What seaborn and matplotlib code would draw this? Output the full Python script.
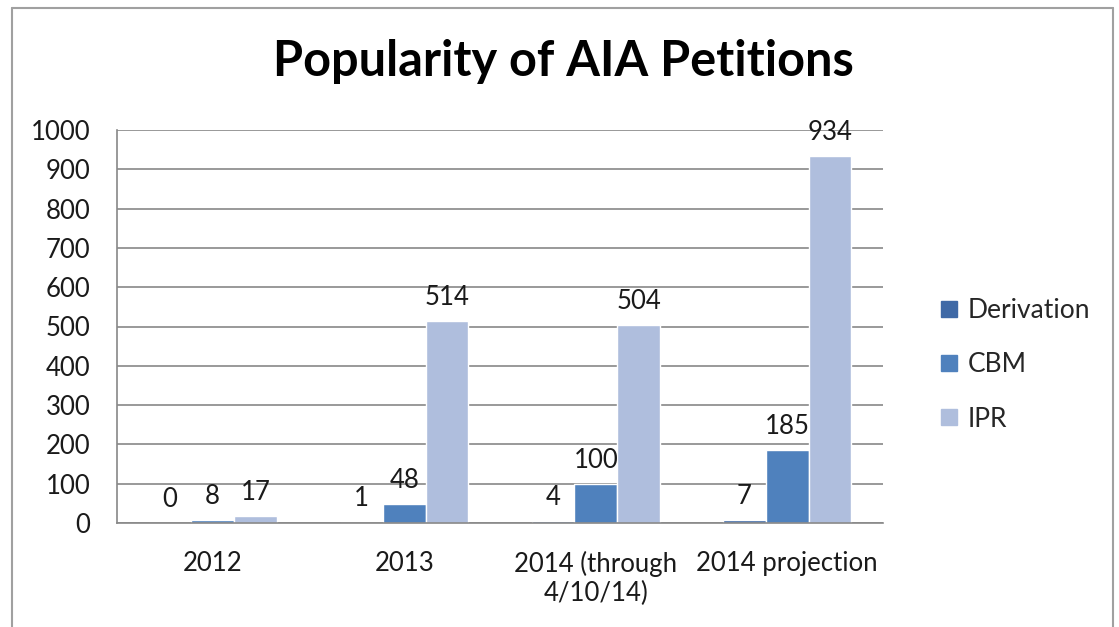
import matplotlib
matplotlib.use("Agg")
import matplotlib.pyplot as plt
import seaborn as sns
import pandas as pd
from matplotlib.lines import Line2D

categories = ["2012", "2013", "2014 (through\n4/10/14)", "2014 projection"]
series = ["Derivation", "CBM", "IPR"]
derivation = [0, 1, 4, 7]
cbm = [8, 48, 100, 185]
ipr = [17, 514, 504, 934]
yticks = [0, 100, 200, 300, 400, 500, 600, 700, 800, 900, 1000]

colors = ["#3F69A6", "#4F81BD", "#AFBEDD"]

rows = []
for name, vals in zip(series, [derivation, cbm, ipr]):
    for c, v in zip(categories, vals):
        rows.append({"Year": c, "Type": name, "Count": v})
df = pd.DataFrame(rows)

sns.set_theme(style="white")
plt.rcParams['font.family'] = ['Lato', 'DejaVu Sans']

fig = plt.figure(figsize=(11.19, 6.27), dpi=100)
ax = fig.add_axes([117/1119, 1-523/627, (883-117)/1119, (523-130)/627])

sns.barplot(data=df, x="Year", y="Count", hue="Type", order=categories,
            hue_order=series, palette=colors, width=0.67, gap=0,
            saturation=1, ax=ax, legend=False)

for cont in ax.containers:
    ax.bar_label(cont, fmt="%d", padding=8, fontsize=18.5, color="#1a1a1a")

ax.set_ylim(0, 1000)
ax.set_yticks(yticks)
ax.set_yticklabels([str(t) for t in yticks], fontsize=18.5, color="#1a1a1a")
ax.tick_params(axis="x", labelsize=18.5, colors="#1a1a1a", pad=20, length=0)
ax.tick_params(axis="y", length=0, pad=19)
ax.set_xlabel("")
ax.set_ylabel("")
ax.yaxis.grid(True, color="#888888", linewidth=1.2)
ax.set_axisbelow(True)
for s in ["top", "right"]:
    ax.spines[s].set_visible(False)
for s in ["left", "bottom"]:
    ax.spines[s].set_color("#888888")
    ax.spines[s].set_linewidth(1.2)

fig.text(563/1119, 1-62/627, "Popularity of AIA Petitions", ha="center", va="center",
         fontsize=35, fontweight="bold", color="black")

handles = [Line2D([0], [0], marker="s", linestyle="", markersize=11,
                  markerfacecolor=c, markeredgecolor=c) for c in colors]
fig.legend(handles, series, loc="center left", bbox_to_anchor=(915/1119, 1-365/627),
           frameon=False, fontsize=19, labelspacing=1.1, handletextpad=0.3,
           handlelength=0.8)

# outer frame
for xs, ys in [([12/1119, 12/1119], [0, 1-8/627]),
               ([12/1119, 1113/1119], [1-8/627, 1-8/627]),
               ([1113/1119, 1113/1119], [1-8/627, 0])]:
    fig.add_artist(Line2D(xs, ys, color="#a0a0a0", linewidth=1.5, transform=fig.transFigure))

fig.savefig("out.png", dpi=100, facecolor="white")
